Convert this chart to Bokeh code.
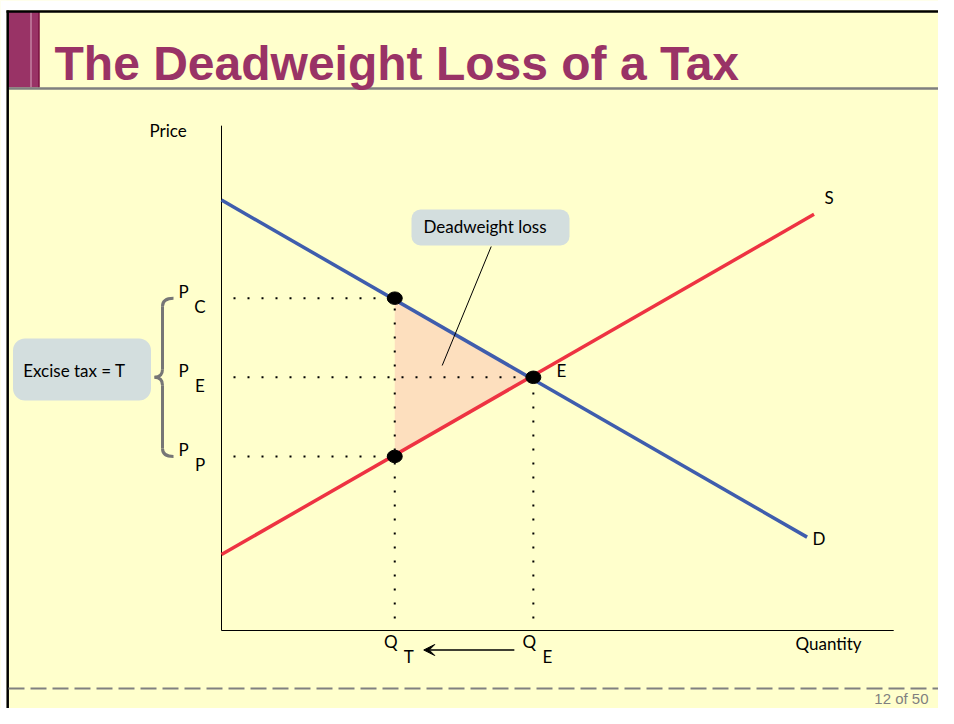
from bokeh.plotting import figure
from bokeh.models import Range1d, BoxAnnotation, Arrow, VeeHead
from bokeh.core.properties import value
from bokeh.embed import file_html
from bokeh.resources import INLINE

# ---------------- data ----------------
title_text = "The Deadweight Loss of a Tax"
slide_number = "12 of 50"

demand_q = [0.0, 16.9]
demand_p = [13.6, 2.95]
supply_q = [0.0, 17.1]
supply_p = [2.4, 13.15]

q_tax = 5.0          # Q_T
q_eq = 9.0           # Q_E
p_consumer = 10.5    # P_C
p_eq = 8.0           # P_E
p_producer = 5.5     # P_P

axis_q_max = 19.4
axis_p_max = 15.95

price_subscripts = ["C", "E", "P"]
quantity_subscripts = ["T", "E"]

# ---------------- layout ----------------
W, H = 938, 708
ORIGIN_X, ORIGIN_Y = 221, 630   # px of the diagram origin
KX, KY = 34.65, 31.65           # px per unit

BG = "#FFFFCC"
PURPLE = "#993366"
FONT = "Lato"

p = figure(
    width=W, height=H,
    x_range=Range1d(-ORIGIN_X / KX, (W - ORIGIN_X) / KX),
    y_range=Range1d((ORIGIN_Y - H) / KY, ORIGIN_Y / KY),
    output_backend="svg", toolbar_location=None,
    x_axis_location=None, y_axis_location=None,
    min_border=0, outline_line_color=None,
    background_fill_color=BG, border_fill_color=BG,
)
p.extra_x_ranges = {"px": Range1d(0, W)}
p.extra_y_ranges = {"py": Range1d(H, 0)}
p.xgrid.visible = False
p.ygrid.visible = False

PXY = dict(x_range_name="px", y_range_name="py")

# ---------------- slide decoration ----------------
p.quad(left=[0], right=[W], top=[0], bottom=[9.5], fill_color="white", line_color=None, **PXY)
p.quad(left=[0], right=[6], top=[0], bottom=[H], fill_color="white", line_color=None, **PXY)
p.quad(left=[7], right=[38.5], top=[11], bottom=[87], fill_color=PURPLE, line_color=None, **PXY)
p.segment(x0=[30.5], y0=[11], x1=[30.5], y1=[87], line_color="#D9A9BF", line_width=1, **PXY)
p.segment(x0=[38.5], y0=[11], x1=[38.5], y1=[87], line_color="#7A1040", line_width=1.5, **PXY)
p.segment(x0=[6], y0=[11], x1=[W], y1=[11], line_color="black", line_width=2.5, **PXY)
p.segment(x0=[7], y0=[88], x1=[W], y1=[88], line_color="#7F7F7F", line_width=2.5, **PXY)
p.segment(x0=[7.2], y0=[10], x1=[7.2], y1=[H], line_color="black", line_width=2.5, **PXY)
p.text(x=[54], y=[62.5], text=[title_text], text_font=value("Liberation Sans"),
       text_font_style="bold", text_font_size="48px", text_color=PURPLE,
       text_baseline="alphabetic", text_align="left", **PXY)
p.segment(x0=[8], y0=[688], x1=[W], y1=[688], line_color="#808080",
          line_width=2, line_dash="16 6", **PXY)
p.text(x=[928], y=[697.5], text=[slide_number], text_font=value("Liberation Sans"),
       text_font_size="15px", text_color="#7F7F7F", text_align="right",
       text_baseline="middle", **PXY)

# ---------------- callout boxes ----------------
p.add_layout(BoxAnnotation(left=411, right=569, top=209, bottom=245, fill_color="#D3DEDE",
                           fill_alpha=1, line_color=None, border_radius=9, level="underlay", **PXY))
p.add_layout(BoxAnnotation(left=12.5, right=150.5, top=338, bottom=400, fill_color="#D3DEDE",
                           fill_alpha=1, line_color=None, border_radius=12, level="underlay", **PXY))

# ---------------- diagram ----------------
p.patch([q_tax, q_eq, q_tax], [p_consumer, p_eq, p_producer], fill_color="#FDDFBE", line_color=None)

# axes
p.segment(x0=[0, 0], y0=[0, 0], x1=[0, axis_q_max], y1=[axis_p_max, 0], line_color="black", line_width=1)

# dotted guides (drawn from the axes outward)
p.segment(x0=[0, 0, 0, q_tax, q_eq], y0=[p_consumer, p_eq, p_producer, 0, 0],
          x1=[q_tax, q_eq, q_tax, q_tax, q_eq], y1=[p_consumer, p_eq, p_producer, p_consumer, p_eq],
          line_color="black", line_width=2, line_dash="2 12", line_dash_offset=2)

# curves
p.line(demand_q, demand_p, line_color="#3F5DAD", line_width=3.5)
p.line(supply_q, supply_p, line_color="#EE3342", line_width=3.5)

# points
p.ellipse(x=[q_tax, q_eq, q_tax], y=[p_consumer, p_eq, p_producer], width=15, height=12.5,
          width_units="screen", height_units="screen", fill_color="black", line_color="black")

TXT = dict(text_font=value(FONT), text_font_size="17px", text_color="black",
           text_align="center", text_baseline="middle")
TXT17 = {**TXT, "text_font_size": "17px"}

p.text(x=[supply_q[-1]], y=[supply_p[-1]], text=["S"], x_offset=15, y_offset=-17, **TXT)
p.text(x=[demand_q[-1]], y=[demand_p[-1]], text=["D"], x_offset=12, y_offset=1, **TXT)
p.text(x=[q_eq], y=[p_eq], text=["E"], x_offset=28, y_offset=-7, **TXT)

# price labels
prices = [p_consumer, p_eq, p_producer]
p.text(x=[183] * 3, y=prices, text=["P"] * 3, y_offset=-7, x_range_name="px", **TXT)
p.text(x=[199.5] * 3, y=prices, text=price_subscripts, y_offset=8, x_range_name="px", **TXT)

# quantity labels
p.text(x=[q_tax, q_eq], y=[641, 641], text=["Q", "Q"], x_offset=-4, y_range_name="py", **TXT)
p.text(x=[q_tax, q_eq], y=[655.5, 655.5], text=quantity_subscripts, x_offset=14, y_range_name="py", **TXT)

p.add_layout(Arrow(end=VeeHead(size=11, fill_color="black", line_color="black"),
                   x_start=q_eq - 19 / KX, y_start=649.5, x_end=q_tax + 29 / KX, y_end=649.5,
                   line_color="black", line_width=1.5, y_range_name="py"))

# axis titles
p.text(x=[149], y=[130], text=["Price"], **{**TXT17, "text_align": "left"}, **PXY)
p.text(x=[795], y=[643], text=["Quantity"], **{**TXT17, "text_align": "left"}, **PXY)

# callout texts and pointer
p.text(x=[484.5], y=[225.5], text=["Deadweight loss"], **TXT17, **PXY)
p.text(x=[22.7], y=[369.5], text=["Excise tax = T"], **{**TXT17, "text_align": "left"}, **PXY)
p.segment(x0=[490.7], y0=[246], x1=[441.7], y1=[365], line_color="black", line_width=1, **PXY)

# curly brace spanning P_C .. P_P with tip at P_E
ry = 8 / KY
BR = dict(line_color="#767676", line_width=3, x_range_name="px")
p.quadratic(x0=[173, 162, 154, 162], y0=[p_consumer, p_eq + ry, p_eq, p_producer + ry],
            x1=[162, 154, 162, 173], y1=[p_consumer - ry, p_eq, p_eq - ry, p_producer],
            cx=[162, 162, 162, 162], cy=[p_consumer, p_eq, p_eq, p_producer], **BR)
p.segment(x0=[162, 162], y0=[p_consumer - ry, p_eq - ry], x1=[162, 162], y1=[p_eq + ry, p_producer + ry], **BR)

open("out.html", "w").write(file_html(p, INLINE))
